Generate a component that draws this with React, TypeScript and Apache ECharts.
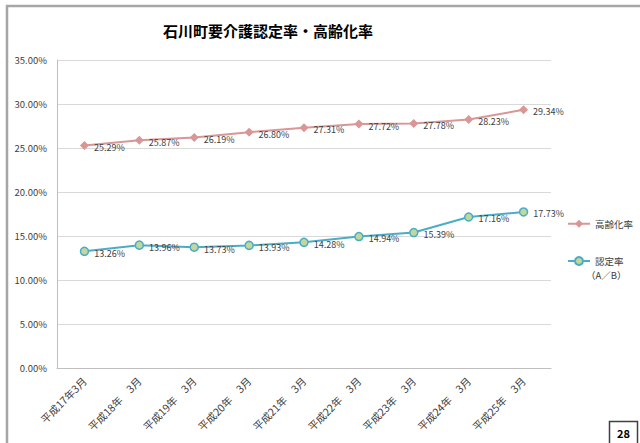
import React, { useEffect, useRef } from "react";
import * as echarts from "echarts";

const categories = [
  "平成17年3月",
  "平成18年　3月",
  "平成19年　3月",
  "平成20年　3月",
  "平成21年　3月",
  "平成22年　3月",
  "平成23年　3月",
  "平成24年　3月",
  "平成25年　3月",
];
const agingRate = [25.29, 25.87, 26.19, 26.8, 27.31, 27.72, 27.78, 28.23, 29.34];
const certRate = [13.26, 13.96, 13.73, 13.93, 14.28, 14.94, 15.39, 17.16, 17.73];
const seriesNames = ["高齢化率", "認定率"];
const certSubLabel = "（A／B）";
const titleText = "石川町要介護認定率・高齢化率";
const pageNumber = "28";

const FONT = "'Noto Sans CJK JP', 'Noto Sans', sans-serif";

export default function App() {
  const ref = useRef<HTMLDivElement>(null);
  useEffect(() => {
    if (!ref.current) return;
    const chart = echarts.init(ref.current, null, { renderer: "svg" });
    const pct = (v: number) => v.toFixed(2) + "%";
    const legendCommon = {
      orient: "vertical",
      left: 567,
      padding: 0,
      itemWidth: 22,
      itemHeight: 10,
      textStyle: { fontSize: 9.5, color: "#404040", fontFamily: FONT },
    };
    chart.setOption({
      animation: false,
      backgroundColor: "#ffffff",
      textStyle: { fontFamily: FONT },
      title: {
        text: titleText,
        left: 163,
        top: 23,
        padding: 0,
        textStyle: { fontSize: 15, fontWeight: "bold", color: "#000000", fontFamily: FONT },
      },
      grid: { left: 57, right: 89, top: 60, bottom: 75, containLabel: false },
      legend: [
        { ...legendCommon, top: 219, data: [{ name: seriesNames[0] }] },
        { ...legendCommon, top: 256, data: [{ name: seriesNames[1] }] },
      ],
      xAxis: {
        type: "category",
        data: categories,
        boundaryGap: true,
        axisLine: { lineStyle: { color: "#bfbfbf", width: 1 } },
        axisTick: { show: false },
        axisLabel: {
          rotate: 45,
          fontSize: 10.5,
          color: "#404040",
          margin: 11,
          interval: 0,
          fontFamily: FONT,
        },
      },
      yAxis: {
        type: "value",
        min: 0,
        max: 35,
        interval: 5,
        axisLine: { show: true, lineStyle: { color: "#bfbfbf", width: 1 } },
        axisTick: { show: false },
        splitLine: { lineStyle: { color: "#d9d9d9", width: 1 } },
        axisLabel: {
          formatter: (v: number) => pct(v),
          fontSize: 9.5,
          color: "#404040",
          margin: 10,
          fontFamily: FONT,
        },
      },
      series: [
        {
          name: seriesNames[0],
          type: "line",
          data: agingRate,
          symbol: "diamond",
          symbolSize: 9,
          lineStyle: { color: "#D99694", width: 2 },
          itemStyle: { color: "#D99694" },
          label: {
            show: true,
            position: "right",
            distance: 5,
            offset: [0, 2],
            formatter: (p: any) => pct(p.value),
            fontSize: 9,
            color: "#404040",
            fontFamily: FONT,
          },
        },
        {
          name: seriesNames[1],
          type: "line",
          data: certRate,
          symbol: "circle",
          symbolSize: 8,
          lineStyle: { color: "#4BACC6", width: 2 },
          itemStyle: { color: "#C3D69B", borderColor: "#4BACC6", borderWidth: 1.5 },
          label: {
            show: true,
            position: "right",
            distance: 5,
            offset: [0, 2],
            formatter: (p: any) => pct(p.value),
            fontSize: 9,
            color: "#404040",
            fontFamily: FONT,
          },
        },
      ],
      graphic: [
        {
          type: "line",
          shape: { x1: 6, y1: 6, x2: 640, y2: 6 },
          style: { stroke: "#a6a6a6", lineWidth: 2.5 },
          silent: true,
        },
        {
          type: "line",
          shape: { x1: 7, y1: 5, x2: 7, y2: 443 },
          style: { stroke: "#a6a6a6", lineWidth: 2.5 },
          silent: true,
        },
        {
          type: "text",
          x: 586,
          y: 275,
          style: {
            text: certSubLabel,
            fontSize: 9.5,
            fill: "#404040",
            align: "left",
            verticalAlign: "middle",
            fontFamily: FONT,
          },
          silent: true,
        },
        {
          type: "rect",
          shape: { x: 609.5, y: 421.5, width: 28, height: 25 },
          style: { fill: "#ffffff", stroke: "#404040", lineWidth: 1.5 },
          silent: true,
        },
        {
          type: "text",
          x: 623.5,
          y: 433,
          style: {
            text: pageNumber,
            fontSize: 11,
            fontWeight: "bold",
            fill: "#000000",
            align: "center",
            verticalAlign: "middle",
            fontFamily: FONT,
          },
          silent: true,
        },
      ],
    });
    return () => chart.dispose();
  }, []);
  return (
    <div
      ref={ref}
      style={{ position: "fixed", left: 0, top: 0, width: 640, height: 443 }}
    />
  );
}
